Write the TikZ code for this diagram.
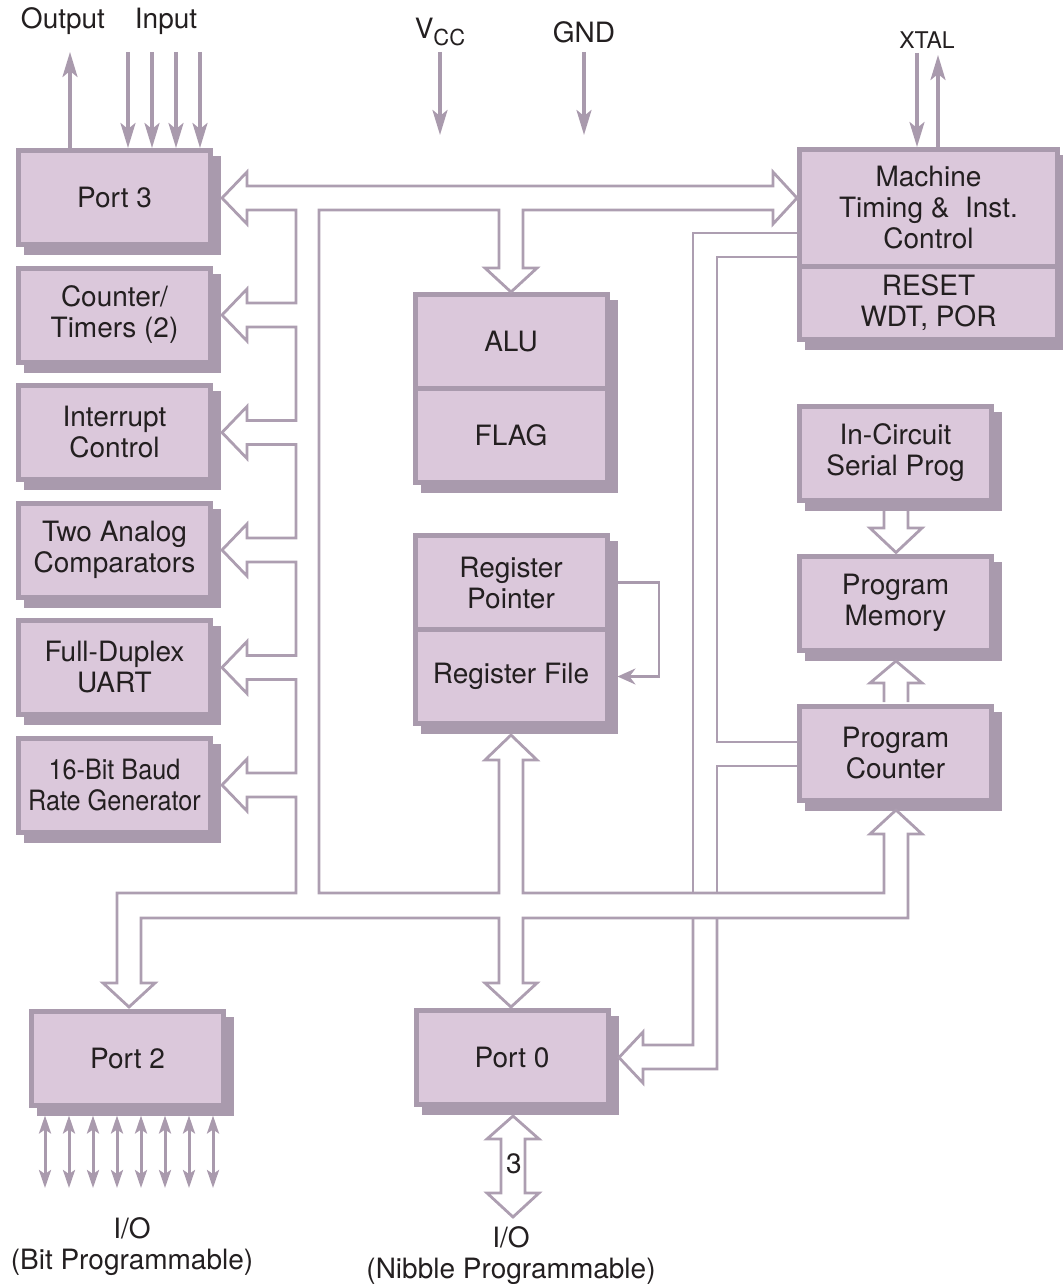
\documentclass[tikz,border=0pt]{standalone}
\usepackage{fontspec}
\setmainfont{TeX Gyre Heros}
\newfontfamily\condfont{TeX Gyre Heros}[FakeStretch=0.9]
\usetikzlibrary{arrows.meta,positioning,shadows}
\definecolor{boxfill}{HTML}{DBC8DB}
\definecolor{boxedge}{HTML}{A99AAD}
\definecolor{busline}{HTML}{AD9EB1}
\definecolor{inktext}{HTML}{231F20}
\begin{document}
\begin{tikzpicture}[x=0.5pt,y=-0.5pt,line join=miter,font=\fontsize{14}{15.5}\selectfont,text=inktext,
		blk/.style={draw=boxedge,line width=2.5pt,fill=boxfill,minimum width=96pt,minimum height=47pt,inner sep=0pt,align=center,
			drop shadow={shadow xshift=4pt,shadow yshift=-4pt,opacity=1,fill=boxedge,draw=boxedge,line width=2.5pt}},
		bus/.style={draw=busline,line width=1.4pt},
		sig/.style={draw=boxedge,line width=1.7pt,-{Stealth[length=12.5pt,width=7.5pt,inset=3pt]}},
		pin/.style={draw=boxedge,line width=1.5pt,{Stealth[length=9pt,width=6pt,inset=2pt]}-{Stealth[length=9pt,width=6pt,inset=2pt]}},
		fb/.style={draw=boxedge,line width=1.3pt,-{Stealth[length=9pt,width=8pt,inset=3pt]}},
		node distance=9.25pt]
	\useasboundingbox (0,0) rectangle (1062,1284);
	% left column
	\node[blk] (p3) at (114.5,197.5) {Port 3};
	\node[blk,below=of p3] (ct) {Counter/\\Timers (2)};
	\node[blk,below=of ct] (ic) {Interrupt\\Control};
	\node[blk,below=of ic] (ac) {Two Analog\\Comparators};
	\node[blk,below=of ac] (uart) {Full-Duplex\\UART};
	\node[blk,below=of uart,font=\condfont\fontsize{14}{15.5}\selectfont] (baud) {16-Bit Baud\\Rate Generator};
	% middle column
	\node[blk] (alu) at (511,341.5) {ALU};
	\node[blk,below=-2.5pt of alu] (flag) {FLAG};
	\node[blk] (rp) at (511,582.5) {Register\\Pointer};
	\node[blk,below=-2.5pt of rp] (rf) {Register File};
	\node[blk] (p0) at (512,1057.5) {Port 0};
	\node[blk] (p2) at (127.5,1058) {Port 2};
	% right column
	\node[blk,minimum width=129pt,minimum height=58.5pt] (mt) at (928.5,208) {Machine\\Timing \&\ \ Inst.\\Control};
	\node[blk,minimum width=129pt,minimum height=36.5pt,below=-2.5pt of mt] (rst) {RESET\\WDT, POR};
	\node[blk] (icsp) at (895.5,453) {In-Circuit\\Serial Prog};
	\node[blk,below=25.5pt of icsp] (pm) {Program\\Memory};
	\node[blk,below=25.5pt of pm] (pc) {Program\\Counter};
	% labels
	\node (lOut) at (63,21) {Output};
	\node (lIn) at (166,21) {Input};
	\node (lVcc) at (440,32) {V\raisebox{-0.5ex}{\fontsize{11}{11}\selectfont CC}};
	\node (lGnd) at (584,32) {GND};
	\node[font=\fontsize{11.5}{13}\selectfont] (lXtal) at (927,40) {XTAL};
	\node[align=center] (lIOa) at (132,1247) {I/O\\(Bit Programmable)};
	\node[align=center] (lIOb) at (511,1256) {I/O\\(Nibble Programmable)};
	% free ends
	\coordinate (vccEnd) at (440,135);
	\coordinate (gndEnd) at (584,135);
	\coordinate (p2s) at ([yshift=-4pt]p2.south);
	\coordinate (rpS) at ([xshift=4pt]rp.east);
	\coordinate (rfS) at ([xshift=4pt]rf.east);
	% pins
	\draw[sig] (p3.north -| 70,0) -- (70,52);
	\foreach \x in {128,152,176,200}
		\draw[sig] (\x,52) -- (p3.north -| \x,0);
	\draw[sig] (lVcc.south |- 0,52) -- (vccEnd);
	\draw[sig] (lGnd.south |- 0,52) -- (gndEnd);
	\draw[sig] (917,53) -- (mt.north -| 917,0);
	\draw[sig] (mt.north -| 938,0) -- (938,55);
	\foreach \x in {45,69,93,117,141,165,189,213}
		\draw[pin] (p2s -| \x,0) -- (\x,1188);
	\draw[fb] (rpS) -- (rpS -| 659,0) |- (rfS);
	% main bus
	\draw[bus] (296,210) -- (247,210) -- (247,224) -- (222,198) -- (247,172) -- (247,186) -- (773,186) -- (773,172) -- (797,198)
		-- (773,224) -- (773,210) -- (523,210) -- (523,268) -- (537,268) -- (511,292) -- (485,268) -- (499,268) -- (499,210)
		-- (319,210) -- (319,893) -- (499,893) -- (499,760) -- (485,760) -- (511,735) -- (537,760) -- (523,760) -- (523,893)
		-- (884,893) -- (884,834) -- (870,834) -- (896,810) -- (922,834) -- (908,834) -- (908,918) -- (523,918) -- (523,983)
		-- (537,983) -- (511,1007) -- (485,983) -- (499,983) -- (499,918) -- (141,918) -- (141,983) -- (155,983) -- (129,1007)
		-- (103,983) -- (117,983) -- (117,893) -- (296,893)
		\foreach \c in {785,667.5,550,432.5,315} {
			-- (296,\c+12) -- (247,\c+12) -- (247,\c+26) -- (222,\c) -- (247,\c-26) -- (247,\c-12) -- (296,\c-12)} -- cycle;
	% control bus
	\draw[bus] (797,233) -- (693,233) -- (693,893);
	\draw[bus] (797,257) -- (717,257) -- (717,742) -- (797,742);
	\draw[bus] (797,766) -- (717,766) -- (717,893);
	\draw[bus] (693,918) -- (693,1045) -- (643,1045) -- (643,1032) -- (619,1057.5) -- (643,1083) -- (643,1069) -- (717,1069) -- (717,918);
	% program memory
	\draw[bus] (884,511) -- (884,528) -- (870,528) -- (896,552.5) -- (922,528) -- (908,528) -- (908,511);
	\draw[bus] (884,702) -- (884,683) -- (870,683) -- (896,661) -- (922,683) -- (908,683) -- (908,702);
	% port 0 i/o
	\draw[bus] (513,1116) -- (539,1139) -- (525,1139) -- (525,1193) -- (539,1193) -- (513,1217) -- (487,1193) -- (501,1193)
		-- (501,1139) -- (487,1139) -- cycle;
	\node (lThree) at (514,1164) {3};
\end{tikzpicture}
\end{document}
